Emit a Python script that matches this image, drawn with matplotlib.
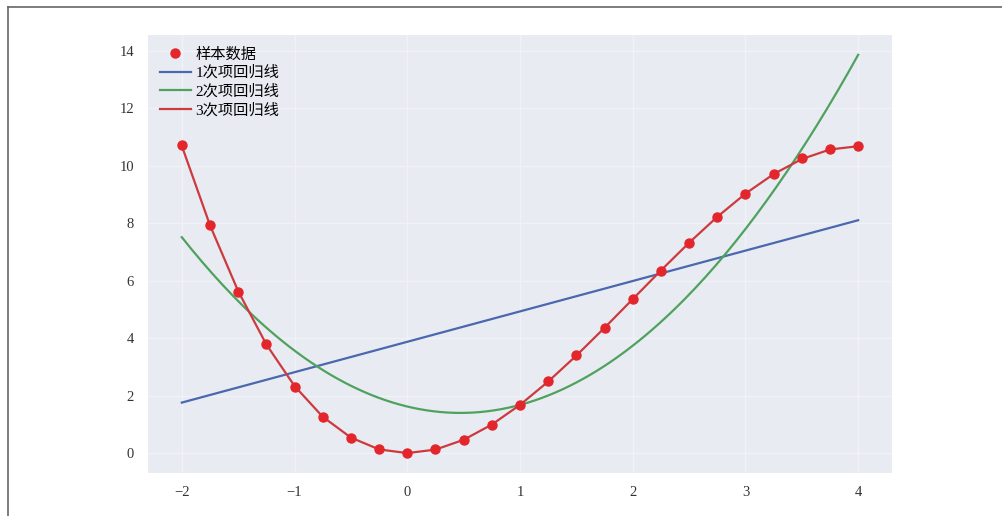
import numpy as np
import matplotlib.pyplot as plt
from matplotlib.lines import Line2D

# sample points
x_samples = [-2.0, -1.75, -1.5, -1.25, -1.0, -0.75, -0.5, -0.25, 0.0,
             0.25, 0.5, 0.75, 1.0, 1.25, 1.5, 1.75, 2.0, 2.25, 2.5,
             2.75, 3.0, 3.25, 3.5, 3.75, 4.0]
y_samples = [10.71, 7.95, 5.60, 3.78, 2.31, 1.26, 0.53, 0.14, 0.00,
             0.14, 0.46, 0.98, 1.68, 2.49, 3.40, 4.34, 5.36, 6.34, 7.32,
             8.23, 9.03, 9.70, 10.26, 10.57, 10.68]

fit_degrees = [1, 2, 3]
fit_labels = ['1次项回归线', '2次项回归线', '3次项回归线']
fit_colors = ['#4a68ae', '#4fa25e', '#cc3a3e']

FONT = ['Liberation Serif', 'Noto Sans CJK SC']
plt.rcParams['font.family'] = FONT
plt.rcParams['axes.unicode_minus'] = True

fig = plt.figure(figsize=(10.02, 5.16), dpi=100)
ax = fig.add_axes([0.1477, 0.0833, 0.7425, 0.849])
ax.set_facecolor('#e9ebf3')
for s in ax.spines.values():
    s.set_visible(False)
ax.grid(True, color='#f1f2f7', linewidth=1.0)
ax.set_axisbelow(True)

x = np.array(x_samples)
y = np.array(y_samples)
x_fine = np.linspace(x.min(), x.max(), 200)

handles = []
for deg, label, color in zip(fit_degrees, fit_labels, fit_colors):
    coef = np.polyfit(x, y, deg)
    xs = x if deg == 3 else x_fine
    ln, = ax.plot(xs, np.polyval(coef, xs), color=color, linewidth=1.6,
                  label=label, zorder=2)
    handles.append(ln)

pts, = ax.plot(x, y, 'o', color='#e3262b', markersize=6.5, linestyle='none',
               label='样本数据', zorder=3)
handles.insert(0, pts)

ax.set_xticks([-2, -1, 0, 1, 2, 3, 4])
ax.set_yticks([0, 2, 4, 6, 8, 10, 12, 14])
ax.tick_params(length=0, labelsize=10.5, labelcolor='#333333')
ax.tick_params(axis='x', pad=9)
ax.tick_params(axis='y', pad=10)

ax.legend(handles=handles, loc='upper left', frameon=False,
          prop={'family': FONT, 'size': 11}, labelspacing=0.28,
          handlelength=2.0, handletextpad=0.3, borderaxespad=0.4)

# page frame (top and left edges)
fig.add_artist(Line2D([8 / 1002, 1.0], [1 - 7 / 516, 1 - 7 / 516],
                      transform=fig.transFigure, color='#666666', linewidth=1.2))
fig.add_artist(Line2D([8 / 1002, 8 / 1002], [0.0, 1 - 7 / 516],
                      transform=fig.transFigure, color='#666666', linewidth=1.2))

fig.savefig('out.png', dpi=100)
